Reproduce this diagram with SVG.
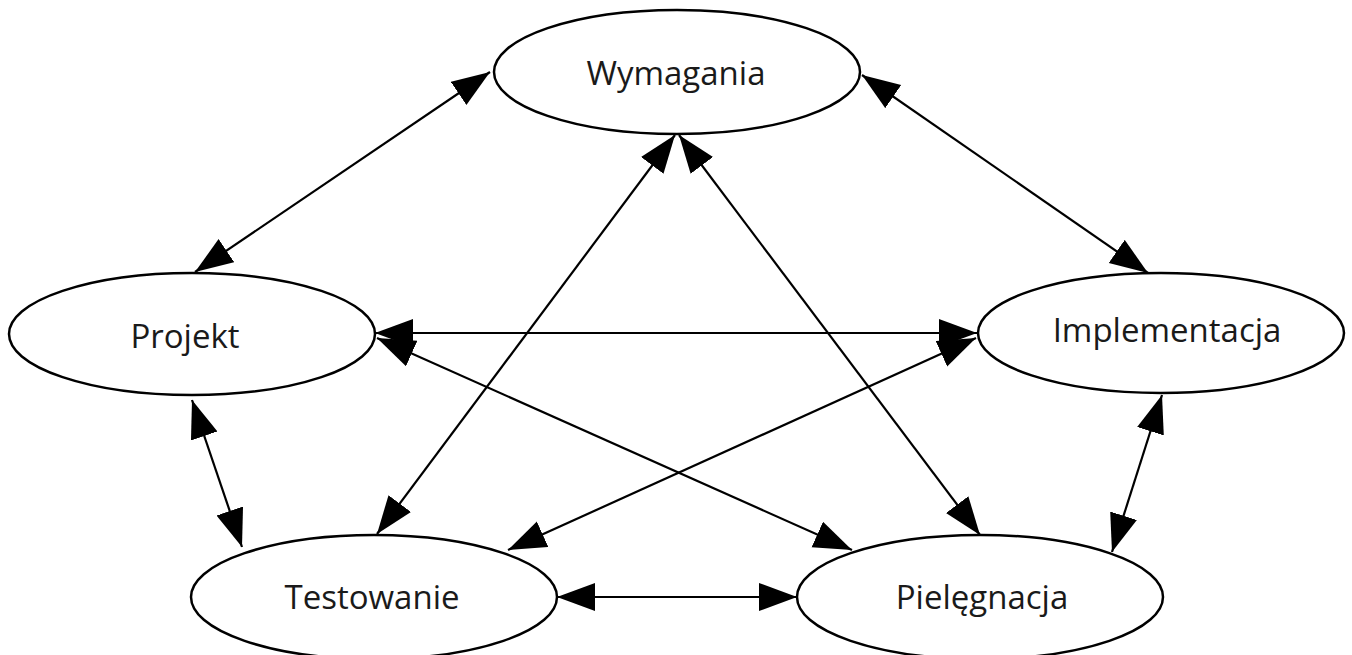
<svg xmlns="http://www.w3.org/2000/svg" width="1352" height="655" viewBox="0 0 1352 655">
<style>
.n{fill:#fff;stroke:#000;stroke-width:2.5}
.t{font-family:"Open Sans","Noto Sans",sans-serif;font-size:33px;fill:#1a1a1a;text-anchor:middle}
.c line{stroke:#000;stroke-width:2.2;marker-start:url(#ah);marker-end:url(#ah)}
</style>
<defs>
<marker id="ah" markerUnits="userSpaceOnUse" markerWidth="40" markerHeight="30" refX="38" refY="14" orient="auto-start-reverse" viewBox="0 0 40 30">
<path d="M0,0 L38,14 L0,28 z" fill="#000"/>
</marker>
</defs>
<rect width="1352" height="655" fill="#fff"/>
<g id="n-wymagania"><ellipse class="n" cx="677" cy="72" rx="183" ry="62"/><text class="t" x="676" y="85">Wymagania</text></g>
<g id="n-projekt"><ellipse class="n" cx="192" cy="334" rx="183" ry="61"/><text class="t" x="185" y="348">Projekt</text></g>
<g id="n-implementacja"><ellipse class="n" cx="1161" cy="333" rx="183" ry="60"/><text class="t" x="1167" y="342">Implementacja</text></g>
<g id="n-testowanie"><ellipse class="n" cx="374" cy="597" rx="183" ry="62"/><text class="t" x="372" y="609">Testowanie</text></g>
<g id="n-pielegnacja"><ellipse class="n" cx="980" cy="597" rx="183" ry="62"/><text class="t" x="982" y="609">Pielęgnacja</text></g>
<g id="connectors" class="c">
<line x1="490" y1="72" x2="195" y2="272"/>
<line x1="862" y1="75" x2="1148" y2="273"/>
<line x1="675" y1="135" x2="377" y2="534"/>
<line x1="679" y1="135" x2="980" y2="535"/>
<line x1="375" y1="333" x2="977" y2="333"/>
<line x1="377" y1="338" x2="852" y2="550"/>
<line x1="976" y1="338" x2="508" y2="550"/>
<line x1="192" y1="400" x2="242" y2="547"/>
<line x1="1162" y1="395" x2="1112" y2="552"/>
<line x1="557" y1="597" x2="797" y2="597"/>
</g>
</svg>
